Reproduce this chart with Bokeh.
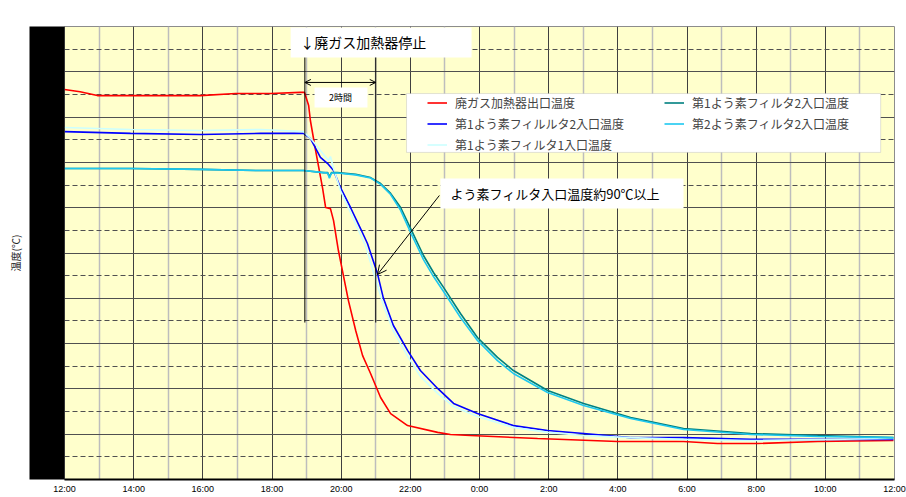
from bokeh.plotting import figure
from bokeh.models import (Range1d, FixedTicker, LinearAxis, Legend, LegendItem,
                          BoxAnnotation, Label, Arrow, OpenHead)
from bokeh.embed import file_html
from bokeh.resources import INLINE

# ---- axis ticks ----
TICK_HOURS = [12, 14, 16, 18, 20, 22, 24, 26, 28, 30, 32, 34, 36]
TICK_LABELS = ["12:00", "14:00", "16:00", "18:00", "20:00", "22:00", "0:00",
               "2:00", "4:00", "6:00", "8:00", "10:00", "12:00"]
ODD_HOURS = [13, 15, 17, 19, 21, 23, 25, 27, 29, 31, 33, 35]
Y_MAJOR = [0, 20, 40, 60, 80, 100, 120, 140, 160, 180, 200]
Y_MINOR = [10, 30, 50, 70, 90, 110, 130, 150, 170, 190]
Y_LABEL_TICKS = [20, 40, 60, 80, 100, 120, 140, 160, 180]

# ---- series (hour of day, continuing past 24 into next day; temperature °C) ----
RED_H = [12.00, 12.45, 12.95, 13.91, 15.93, 16.95, 17.96, 18.82, 18.94, 19.06, 19.11, 19.26,
         19.46, 19.55, 19.69, 19.78, 19.92, 20.21, 20.42, 20.62, 20.85, 21.14, 21.43,
         21.92, 22.79, 23.16, 23.74, 25.68, 27.99, 29.90, 30.88, 32.04, 33.78, 35.97]
RED_V = [172.2, 171.2, 169.5, 169.5, 169.5, 170.4, 170.4, 170.9, 170.9, 165.1, 158.5, 145.3,
         128.9, 120.1, 119.6, 114.3, 101.1, 79.0, 65.8, 54.7, 46.8, 36.2, 29.1,
         23.8, 20.8, 19.9, 19.4, 18.1, 16.8, 16.8, 15.9, 15.9, 16.8, 17.2]

BLUE_H = [12.00, 13.91, 15.93, 17.67, 18.54, 18.91, 19.11, 19.40, 19.61, 19.78, 19.98,
          20.27, 20.56, 20.76, 21.05, 21.22, 21.51, 21.92, 22.29, 22.79, 23.25, 23.94,
          24.98, 25.97, 27.01, 28.37, 29.90, 31.84, 35.97]
BLUE_V = [153.6, 152.8, 152.3, 152.8, 152.8, 152.8, 150.6, 142.2, 139.5, 136.4, 128.9,
          120.1, 110.8, 104.2, 90.9, 80.1, 68.0, 57.0, 48.1, 40.2, 33.6, 29.1,
          23.8, 21.6, 20.3, 18.5, 18.5, 17.7, 17.7]

LC_H = [12.00, 13.91, 15.93, 17.67, 18.91, 19.17, 19.40, 19.63, 19.69, 19.78, 19.98,
        20.27, 20.70, 20.99, 21.22, 21.51, 21.92, 22.29, 22.79, 23.25, 23.94, 24.98,
        25.97, 27.01, 28.37, 29.90, 31.84, 35.97]
LC_V = [155.4, 154.5, 154.1, 154.5, 153.6, 149.7, 145.3, 140.8, 142.6, 137.3, 127.6,
        117.9, 103.3, 88.7, 77.0, 65.5, 54.5, 45.5, 38.0, 32.2, 27.8, 23.0,
        20.8, 19.4, 18.5, 17.7, 17.2, 18.1]

TEAL_H = [12.00, 13.91, 15.93, 17.67, 18.91, 19.49, 19.61, 19.66, 19.72, 19.89, 20.42,
          20.85, 21.14, 21.43, 21.72, 22.01, 22.38, 22.67, 22.96, 23.45, 23.94, 24.52,
          24.98, 25.97, 27.01, 28.37, 29.90, 31.84, 33.78, 35.97]
TEAL_V = [137.3, 137.3, 136.9, 136.4, 136.4, 135.5, 135.5, 133.6, 135.5, 135.5, 134.7,
          133.3, 130.7, 126.3, 120.1, 110.8, 98.9, 91.4, 84.8, 73.3, 62.7, 53.9,
          48.1, 39.3, 33.6, 27.4, 22.5, 20.3, 19.4, 18.5]

CYAN_H = [12.00, 13.91, 15.93, 17.67, 18.91, 19.49, 19.61, 19.66, 19.72, 19.89, 20.42,
          20.85, 21.14, 21.43, 21.72, 22.01, 22.38, 22.67, 22.96, 23.45, 23.94, 24.52,
          24.98, 25.97, 27.01, 28.37, 29.90, 31.84, 33.78, 35.97]
CYAN_V = [137.3, 137.3, 136.9, 136.4, 136.4, 135.5, 135.3, 133.0, 135.3, 135.3, 134.5,
          133.1, 130.3, 125.8, 118.8, 109.0, 97.1, 89.6, 83.0, 71.5, 61.4, 52.5,
          46.8, 38.4, 32.7, 26.9, 22.1, 19.9, 19.0, 18.5]

SERIES_NAMES = ["廃ガス加熱器出口温度", "第1よう素フィルルタ2入口温度", "第1よう素フィルタ1入口温度",
                "第1よう素フィルタ2入口温度", "第2よう素フィルタ2入口温度"]
SERIES_COLORS = ["#ff0000", "#0000ff", "#ccffff", "#008080", "#1ec8f0"]

JP = "Noto Sans CJK JP"

p = figure(width=906, height=497, x_range=Range1d(12, 36), y_range=Range1d(0, 200),
           output_backend="svg", toolbar_location=None,
           min_border_left=64, min_border_right=12, min_border_top=26, min_border_bottom=18)
p.background_fill_color = "#ffffcc"
p.border_fill_color = "white"
p.outline_line_color = "#8c8c8c"
p.outline_line_width = 1

xt = FixedTicker(ticks=TICK_HOURS, minor_ticks=ODD_HOURS)
yt = FixedTicker(ticks=Y_MAJOR, minor_ticks=Y_MINOR)

# x axis
p.xaxis.ticker = xt
p.xaxis.major_label_overrides = {h: lab for h, lab in zip(TICK_HOURS, TICK_LABELS)}
p.xaxis.axis_line_color = "black"
p.xaxis.axis_line_width = 2
p.xaxis.major_tick_line_color = None
p.xaxis.minor_tick_line_color = None
p.xaxis.major_tick_out = 0
p.xaxis.major_tick_in = 0
p.xaxis.minor_tick_out = 0
p.xaxis.major_label_standoff = 4
p.xaxis.major_label_text_font = "Liberation Sans"
p.xaxis.major_label_text_font_size = "9px"
p.xaxis.major_label_text_color = "black"

# y axis (its tick labels are blacked out in the reference)
p.yaxis.ticker = FixedTicker(ticks=Y_LABEL_TICKS)
p.yaxis.axis_line_color = None
p.yaxis.major_tick_line_color = None
p.yaxis.minor_tick_line_color = None
p.yaxis.major_tick_out = 0
p.yaxis.major_tick_in = 0
p.yaxis.minor_tick_out = 0
p.yaxis.major_label_text_color = "black"
p.yaxis.major_label_text_font = "Liberation Sans"
p.yaxis.major_label_text_font_size = "12px"
p.yaxis.major_label_standoff = 12
p.yaxis.background_fill_color = "black"

# y axis title on an outer, otherwise empty axis
ylab = LinearAxis(axis_label="温度(℃)", ticker=FixedTicker(ticks=[]),
                  axis_line_color=None, major_tick_line_color=None, minor_tick_line_color=None,
                  major_tick_out=0, major_tick_in=0, minor_tick_out=0,
                  major_label_text_font_size="0px",
                  axis_label_text_font=JP, axis_label_text_font_size="10px",
                  axis_label_text_font_style="normal", axis_label_text_color="#222222",
                  axis_label_standoff=7)
p.add_layout(ylab, "left")

# black redaction block over the y tick labels (extends a little below the frame)
p.add_layout(BoxAnnotation(left=11.02, right=12.0, bottom=-3.1, top=207.9,
                           fill_color="black", fill_alpha=1, line_color=None))

# grids
p.xgrid.ticker = xt
p.xgrid.grid_line_color = "#404040"
p.xgrid.grid_line_width = 1
p.xgrid.minor_grid_line_color = "#bdbdbd"
p.xgrid.minor_grid_line_width = 1.5
p.ygrid.ticker = yt
p.ygrid.grid_line_color = "#505050"
p.ygrid.grid_line_width = 1
p.ygrid.minor_grid_line_color = "#505050"
p.ygrid.minor_grid_line_dash = "5 3"
p.ygrid.minor_grid_line_width = 1

# lines
renderers = []
for hs, vs, col in [(RED_H, RED_V, SERIES_COLORS[0]), (BLUE_H, BLUE_V, SERIES_COLORS[1]),
                    (LC_H, LC_V, SERIES_COLORS[2]), (TEAL_H, TEAL_V, SERIES_COLORS[3]),
                    (CYAN_H, CYAN_V, SERIES_COLORS[4])]:
    renderers.append(p.line(hs, vs, line_color=col, line_width=1.6))

# annotation boxes (white)
p.add_layout(BoxAnnotation(left=18.54, right=23.77, bottom=186.3, top=199.6,
                           fill_color="white", fill_alpha=1, line_color=None))
p.add_layout(BoxAnnotation(left=19.23, right=20.76, bottom=164.2, top=173.1,
                           fill_color="white", fill_alpha=1, line_color=None))
p.add_layout(BoxAnnotation(left=22.87, right=29.90, bottom=119.6, top=132.9,
                           fill_color="white", fill_alpha=1, line_color=None))
p.add_layout(BoxAnnotation(left=21.89, right=35.60, bottom=144.4, top=170.4,
                           fill_color="white", fill_alpha=1, line_color="#a0a0a0", line_width=1))

# vertical markers at heater stop and +2h
for hx in (18.95, 21.0):
    p.add_layout(Arrow(end=None, x_start=hx, x_end=hx, y_start=186.3, y_end=69.3,
                       line_color="black", line_width=1))
p.add_layout(Arrow(start=OpenHead(size=6, line_width=1), end=OpenHead(size=6, line_width=1),
                   x_start=18.95, x_end=21.0, y_start=175.3, y_end=175.3,
                   line_color="black", line_width=1))
p.add_layout(Arrow(end=OpenHead(size=9, line_width=1), x_start=22.84, y_start=125.4,
                   x_end=21.05, y_end=90.5, line_color="black", line_width=1))

p.add_layout(Label(x=18.82, y=193.0, text="↓廃ガス加熱器停止", text_font=JP,
                   text_font_size="14px", text_baseline="middle", text_color="black"))
p.add_layout(Label(x=19.98, y=168.7, text="2時間", text_font=JP, text_font_size="9px",
                   text_baseline="middle", text_align="center", text_color="black"))
p.add_layout(Label(x=23.16, y=126.3, text="よう素フィルタ入口温度約90℃以上", text_font=JP,
                   text_font_size="13px", text_baseline="middle", text_color="black"))

legend = Legend(items=[LegendItem(label=n, renderers=[r]) for n, r in zip(SERIES_NAMES, renderers)],
                ncols=2, location=(363, 326), margin=0, padding=0, spacing=4,
                label_width=205, label_height=17, glyph_height=17, glyph_width=20,
                label_standoff=8, label_text_font=JP, label_text_font_size="12px",
                background_fill_alpha=0, border_line_alpha=0)
p.add_layout(legend)

open("out.html", "w").write(file_html(p, INLINE))
